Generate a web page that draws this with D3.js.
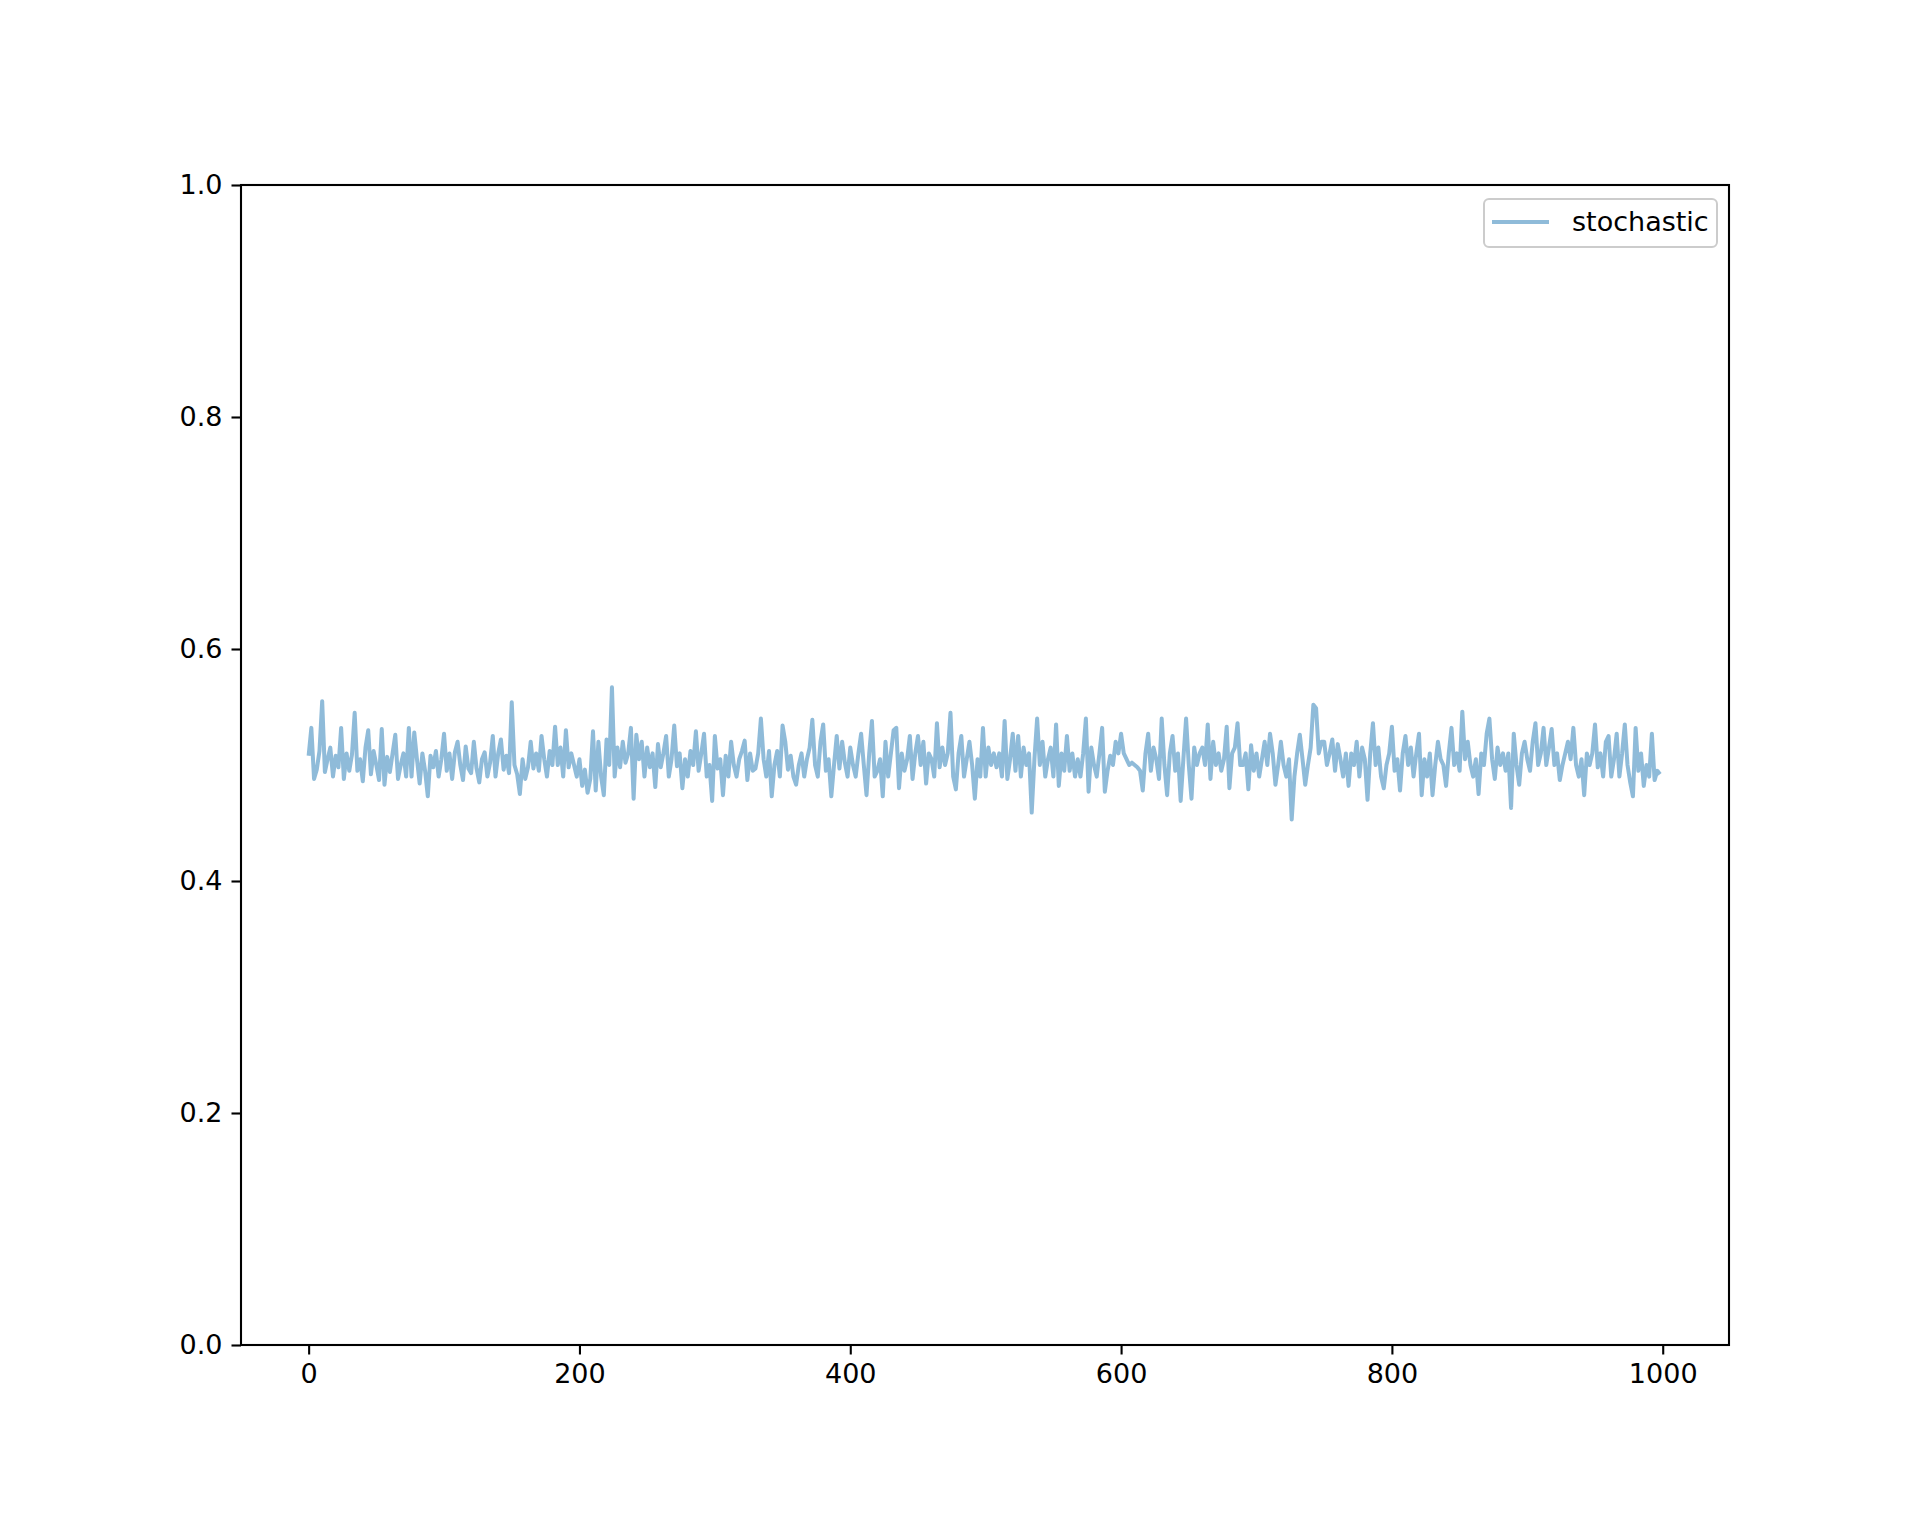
<!DOCTYPE html>
<html>
<head>
<meta charset="utf-8">
<script src="https://cdn.jsdelivr.net/npm/d3@7"></script>
<style>
  body { margin: 0; background: #fff; }
  text { font-family: "DejaVu Sans", sans-serif; }
</style>
</head>
<body>
<div id="chart"></div>
<script>
// values, one every 2 steps (x = 0, 2, ..., 998)
var stochastic = [
    0.508, 0.532, 0.488, 0.496, 0.512, 0.555, 0.494, 0.505, 0.515, 0.490, 0.508, 0.498, 0.532, 0.488, 0.510,
    0.495, 0.509, 0.545, 0.495, 0.505, 0.486, 0.515, 0.530, 0.492, 0.512, 0.500, 0.487, 0.531, 0.483, 0.507,
    0.494, 0.510, 0.526, 0.488, 0.500, 0.510, 0.490, 0.532, 0.490, 0.528, 0.505, 0.484, 0.510, 0.495, 0.473,
    0.508, 0.498, 0.512, 0.490, 0.505, 0.527, 0.495, 0.510, 0.488, 0.511, 0.520, 0.500, 0.487, 0.516, 0.497,
    0.493, 0.520, 0.497, 0.485, 0.505, 0.511, 0.490, 0.502, 0.525, 0.490, 0.510, 0.522, 0.496, 0.508, 0.493,
    0.554, 0.500, 0.492, 0.475, 0.505, 0.488, 0.498, 0.520, 0.497, 0.510, 0.495, 0.525, 0.505, 0.490, 0.512,
    0.500, 0.533, 0.500, 0.515, 0.490, 0.530, 0.498, 0.510, 0.500, 0.490, 0.505, 0.482, 0.496, 0.476, 0.488,
    0.529, 0.478, 0.520, 0.490, 0.474, 0.522, 0.500, 0.567, 0.490, 0.515, 0.498, 0.520, 0.502, 0.510, 0.532,
    0.471, 0.526, 0.505, 0.520, 0.490, 0.515, 0.498, 0.510, 0.481, 0.518, 0.498, 0.510, 0.525, 0.490, 0.505,
    0.534, 0.499, 0.510, 0.480, 0.505, 0.490, 0.512, 0.500, 0.529, 0.495, 0.510, 0.527, 0.490, 0.500, 0.469,
    0.525, 0.497, 0.505, 0.474, 0.508, 0.490, 0.520, 0.500, 0.490, 0.505, 0.512, 0.521, 0.487, 0.510, 0.495,
    0.497, 0.510, 0.540, 0.505, 0.490, 0.512, 0.473, 0.500, 0.512, 0.490, 0.534, 0.520, 0.496, 0.508, 0.490,
    0.483, 0.500, 0.510, 0.490, 0.505, 0.515, 0.539, 0.500, 0.490, 0.520, 0.535, 0.495, 0.505, 0.473, 0.500,
    0.525, 0.497, 0.520, 0.502, 0.490, 0.515, 0.500, 0.490, 0.510, 0.527, 0.500, 0.474, 0.510, 0.538, 0.490,
    0.495, 0.505, 0.473, 0.520, 0.490, 0.510, 0.530, 0.532, 0.480, 0.510, 0.495, 0.505, 0.525, 0.488, 0.510,
    0.525, 0.500, 0.520, 0.484, 0.510, 0.505, 0.490, 0.536, 0.498, 0.515, 0.500, 0.510, 0.545, 0.490, 0.479,
    0.510, 0.525, 0.490, 0.505, 0.520, 0.500, 0.471, 0.505, 0.490, 0.532, 0.490, 0.515, 0.500, 0.510, 0.498,
    0.510, 0.490, 0.538, 0.488, 0.505, 0.527, 0.495, 0.525, 0.490, 0.515, 0.500, 0.510, 0.459, 0.505, 0.540,
    0.500, 0.520, 0.490, 0.505, 0.515, 0.490, 0.535, 0.482, 0.510, 0.495, 0.525, 0.495, 0.510, 0.490, 0.505,
    0.490, 0.510, 0.540, 0.477, 0.515, 0.500, 0.490, 0.510, 0.532, 0.477, 0.495, 0.508, 0.500, 0.520, 0.510,
    0.527, 0.510, 0.505, 0.500, 0.502, 0.500, 0.498, 0.495, 0.478, 0.510, 0.527, 0.495, 0.515, 0.505, 0.488,
    0.540, 0.500, 0.474, 0.510, 0.525, 0.495, 0.510, 0.469, 0.505, 0.540, 0.500, 0.471, 0.515, 0.500, 0.510,
    0.515, 0.500, 0.535, 0.488, 0.520, 0.500, 0.510, 0.495, 0.505, 0.533, 0.480, 0.510, 0.515, 0.536, 0.500,
    0.500, 0.510, 0.479, 0.517, 0.495, 0.510, 0.490, 0.505, 0.520, 0.500, 0.527, 0.510, 0.483, 0.500, 0.520,
    0.500, 0.490, 0.505, 0.453, 0.490, 0.510, 0.526, 0.505, 0.483, 0.500, 0.515, 0.552, 0.549, 0.510, 0.520,
    0.520, 0.500, 0.510, 0.522, 0.495, 0.518, 0.505, 0.490, 0.510, 0.482, 0.510, 0.500, 0.520, 0.490, 0.515,
    0.505, 0.470, 0.510, 0.536, 0.500, 0.515, 0.490, 0.480, 0.500, 0.510, 0.533, 0.495, 0.505, 0.478, 0.510,
    0.525, 0.500, 0.515, 0.490, 0.510, 0.527, 0.474, 0.505, 0.490, 0.510, 0.474, 0.500, 0.520, 0.505, 0.500,
    0.482, 0.510, 0.532, 0.500, 0.510, 0.495, 0.546, 0.505, 0.520, 0.500, 0.490, 0.505, 0.475, 0.510, 0.500,
    0.527, 0.540, 0.505, 0.488, 0.515, 0.500, 0.510, 0.495, 0.510, 0.463, 0.527, 0.500, 0.483, 0.510, 0.520,
    0.505, 0.495, 0.520, 0.536, 0.500, 0.510, 0.532, 0.500, 0.515, 0.531, 0.500, 0.510, 0.487, 0.500, 0.510,
    0.520, 0.505, 0.532, 0.500, 0.490, 0.505, 0.474, 0.510, 0.500, 0.510, 0.535, 0.498, 0.510, 0.490, 0.520,
    0.525, 0.490, 0.505, 0.527, 0.490, 0.510, 0.535, 0.500, 0.485, 0.473, 0.532, 0.495, 0.510, 0.482, 0.500,
    0.490, 0.527, 0.487, 0.495, 0.492
];
var step = 2;
var xTicks = [0, 200, 400, 600, 800, 1000];
var yTicks = [0.0, 0.2, 0.4, 0.6, 0.8, 1.0];
var seriesName = 'stochastic';

var width = 1920, height = 1536;
var plot = {left: 241, right: 1729, top: 185, bottom: 1345};
var fontSize = 27;

var svg = d3.select('#chart').append('svg')
    .attr('width', width)
    .attr('height', height)
    .attr('viewBox', '0 0 ' + width + ' ' + height);

// x runs over 0..999 like the original index, with 5% margins
var xMax = 999;
var pad = xMax * 0.05;
var x = d3.scaleLinear()
    .domain([-pad, xMax + pad])
    .range([plot.left, plot.right]);
var y = d3.scaleLinear()
    .domain([0, 1])
    .range([plot.bottom, plot.top]);

// the series
var line = d3.line()
    .x(function(d, i) { return x(i * step); })
    .y(function(d) { return y(d); });

svg.append('path')
    .datum(stochastic)
    .attr('d', line)
    .attr('fill', 'none')
    .attr('stroke', '#1f77b4')
    .attr('stroke-opacity', 0.5)
    .attr('stroke-width', 4)
    .attr('stroke-linejoin', 'round');

// axes
var xAxis = svg.append('g')
    .attr('transform', 'translate(0,' + plot.bottom + ')')
    .call(d3.axisBottom(x).tickValues(xTicks).tickSize(9.5).tickPadding(9).tickFormat(d3.format('d')));
var yAxis = svg.append('g')
    .attr('transform', 'translate(' + plot.left + ',0)')
    .call(d3.axisLeft(y).tickValues(yTicks).tickSize(9.5).tickPadding(9).tickFormat(d3.format('.1f')));

[xAxis, yAxis].forEach(function(g) {
    g.select('.domain').remove();
    g.selectAll('.tick line').attr('stroke', '#000').attr('stroke-width', 2.1);
    g.selectAll('.tick text')
        .attr('fill', '#000')
        .style('font-size', fontSize + 'px')
        .style('font-family', '"DejaVu Sans", sans-serif');
});

// frame
svg.append('rect')
    .attr('x', plot.left)
    .attr('y', plot.top)
    .attr('width', plot.right - plot.left)
    .attr('height', plot.bottom - plot.top)
    .attr('fill', 'none')
    .attr('stroke', '#000')
    .attr('stroke-width', 2.1);

// legend
var legend = svg.append('g');
legend.append('rect')
    .attr('x', 1484)
    .attr('y', 199)
    .attr('width', 233)
    .attr('height', 48)
    .attr('rx', 5)
    .attr('fill', '#fff')
    .attr('fill-opacity', 0.8)
    .attr('stroke', '#cccccc')
    .attr('stroke-width', 2);
legend.append('line')
    .attr('x1', 1492)
    .attr('x2', 1549)
    .attr('y1', 222)
    .attr('y2', 222)
    .attr('stroke', '#1f77b4')
    .attr('stroke-opacity', 0.5)
    .attr('stroke-width', 4);
legend.append('text')
    .attr('x', 1572)
    .attr('y', 231)
    .attr('fill', '#000')
    .style('font-size', fontSize + 'px')
    .text(seriesName);
</script>
</body>
</html>
